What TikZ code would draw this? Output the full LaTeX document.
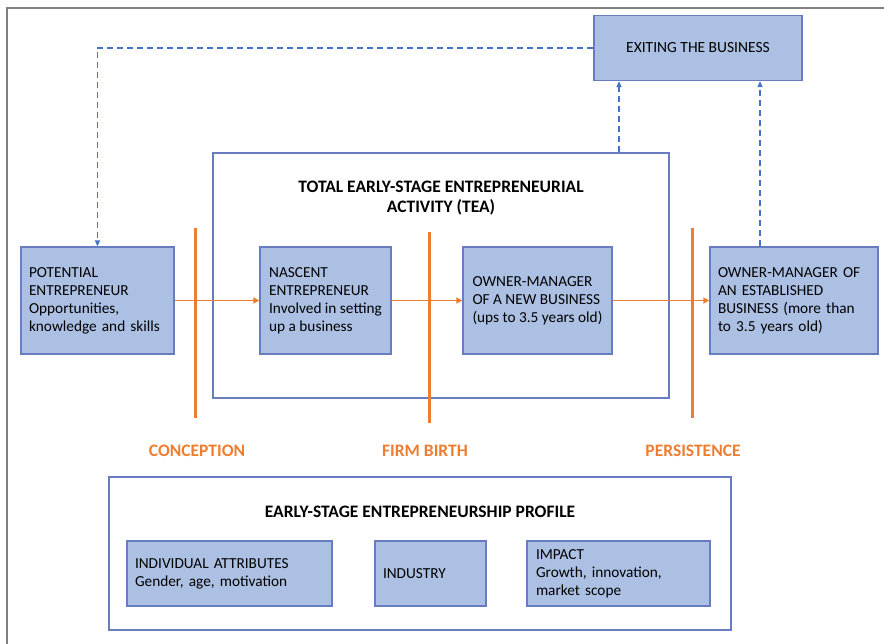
\documentclass[tikz,border=0pt]{standalone}
\usepackage{fontspec}
\setmainfont{Carlito}
\usetikzlibrary{arrows.meta}
\definecolor{boxfill}{RGB}{172,192,228}
\definecolor{boxline}{RGB}{104,124,192}
\definecolor{dashblue}{RGB}{68,114,196}
\definecolor{stageorange}{RGB}{237,125,49}
\begin{document}
\begin{tikzpicture}[x=1pt,y=-1pt,
	stagebox/.style={draw=boxline,fill=boxfill,line width=1.3pt,inner xsep=8pt,inner ysep=0pt,align=left,font=\fontsize{15.3}{18}\selectfont},
	groupbox/.style={draw=boxline,line width=1.3pt,inner sep=0pt},
	grouptitle/.style={align=center,font=\fontsize{17.5}{20}\selectfont\bfseries},
	stagelabel/.style={text=stageorange,font=\fontsize{17.5}{20}\selectfont\bfseries},
	stageline/.style={draw=stageorange,line width=3pt},
	stagearrow/.style={draw=stageorange,line width=1.5pt,-{Triangle[length=6pt,width=6pt]}},
	exitline/.style={draw=dashblue,line width=1.6pt,dash pattern=on 6pt off 4pt,-{Triangle[length=6pt,width=5pt]}}]
	\useasboundingbox (0,0) rectangle (884,644);
	\draw [gray,line width=1.5pt] (7,644) -- (7,8) -- (884,8);

	\node [stagebox,align=center,minimum width=208pt,minimum height=65pt,font=\fontsize{15.5}{18}\selectfont] (exit) at (698,48) {EXITING THE BUSINESS};

	\node [groupbox,minimum width=456pt,minimum height=245pt] (tea) at (441,275.5) {};
	\node [grouptitle] (teatitle) at (441,198) {TOTAL EARLY-STAGE ENTREPRENEURIAL\\ACTIVITY (TEA)};

	\node [stagebox,text width=137pt,minimum height=107pt] (potential) at (97.5,300.5) {POTENTIAL\\ENTREPRENEUR\\Opportunities,\\knowledge and skills};
	\node [stagebox,inner xsep=0pt,minimum width=131pt,minimum height=107pt] (nascent) at (325.5,300.5) {NASCENT\\ENTREPRENEUR\\Involved in setting\\up a business};
	\node [stagebox,inner xsep=0pt,minimum width=149pt,minimum height=107pt] (newowner) at (537.5,300.5) {OWNER-MANAGER\\OF A NEW BUSINESS\\(ups to 3.5 years old)};
	\node [stagebox,text width=152pt,minimum height=107pt] (oldowner) at (794,300.5) {OWNER-MANAGER OF\\AN ESTABLISHED\\BUSINESS (more than\\to 3.5 years old)};

	\draw [stageline] (195,228) -- (195,418);
	\draw [stageline] (429,232) -- (429,423);
	\draw [stageline] (692,228) -- (692,418);

	\draw [stagearrow] (potential) -- (nascent);
	\draw [stagearrow] (nascent) -- (newowner);
	\draw [stagearrow] (newowner) -- (oldowner);

	\draw [exitline] (exit.west) -| (potential.north);
	\draw [exitline] (619,0 |- tea.north) -- (619,0 |- exit.south);
	\draw [exitline] (760,0 |- oldowner.north) -- (760,0 |- exit.south);

	\node [stagelabel] (conception) at (197,451) {CONCEPTION};
	\node [stagelabel] (birth) at (425,451) {FIRM BIRTH};
	\node [stagelabel] (persistence) at (693,451) {PERSISTENCE};

	\node [groupbox,minimum width=622pt,minimum height=153pt] (profile) at (420,553.5) {};
	\node [grouptitle] (profiletitle) at (420,512) {EARLY-STAGE ENTREPRENEURSHIP PROFILE};

	\node [stagebox,text width=189pt,minimum height=65pt] (attributes) at (229.5,573.5) {INDIVIDUAL ATTRIBUTES\\Gender, age, motivation};
	\node [stagebox,text width=95pt,minimum height=65pt] (industry) at (430.5,573.5) {INDUSTRY};
	\node [stagebox,text width=165pt,inner xsep=9pt,minimum height=65pt] (impact) at (618.5,573.5) {IMPACT\\Growth, innovation,\\market scope};
\end{tikzpicture}
\end{document}
